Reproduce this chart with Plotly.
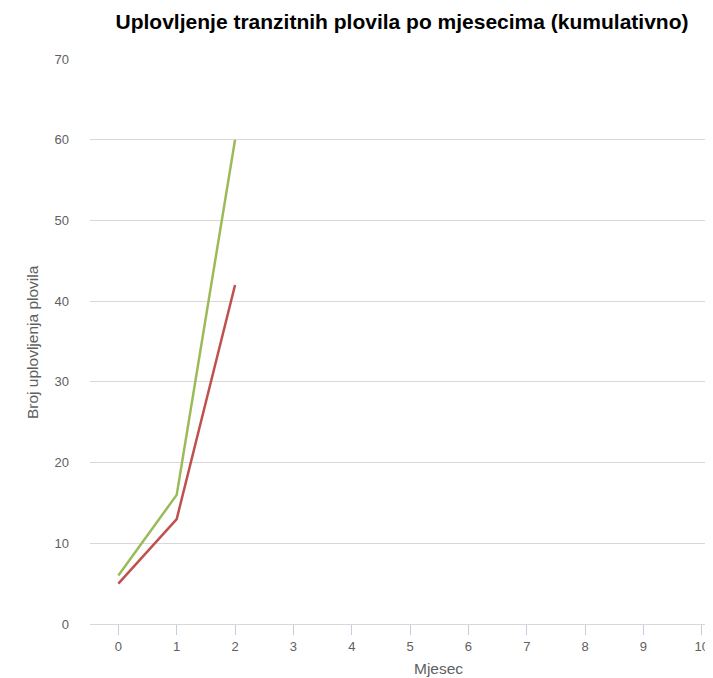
import plotly.graph_objects as go

months = [0, 1, 2]
series_green = [6, 16, 60]
series_red = [5, 13, 42]
x_ticks = list(range(0, 11))
y_ticks = list(range(0, 80, 10))

title_text = "Uplovljenje tranzitnih plovila po mjesecima (kumulativno)"
x_title = "Mjesec"
y_title = "Broj uplovljenja plovila"

# page body has an 8px margin, so the figure is offset by 8px
OFF = 8
W, H = 713 - OFF, 678 - OFF
L, R, T, B = 90 - OFF, 710 - OFF, 59 - OFF, 624 - OFF  # plot area in figure px
PW, PH = R - L, B - T

fig = go.Figure()
fig.add_trace(go.Scatter(x=months, y=series_green, mode="lines",
                         line=dict(color="#9BBB59", width=2.5), showlegend=False))
fig.add_trace(go.Scatter(x=months, y=series_red, mode="lines",
                         line=dict(color="#C0504D", width=2.5), showlegend=False))

font_family = "Liberation Sans, Arial, sans-serif"

fig.update_layout(
    width=W, height=H,
    margin=dict(l=L, r=W - R, t=T, b=H - B, pad=0),
    paper_bgcolor="white", plot_bgcolor="white",
    font=dict(family=font_family, color="#606060", size=13),
    title=dict(text="<b>" + title_text + "</b>", x=(402 - OFF) / W, xanchor="center",
               y=1 - (22 - OFF) / H, yanchor="middle", yref="container",
               font=dict(size=21, color="#000000", family=font_family)),
    xaxis=dict(range=[-0.486, 10.14], tickvals=x_ticks, ticktext=[str(v) for v in x_ticks],
               showgrid=False, zeroline=False, showline=True, linecolor="#D8D8D8", linewidth=1,
               ticks="outside", ticklen=10, tickcolor="#C0D0E0", tickwidth=1,
               tickfont=dict(size=13, color="#606060")),
    yaxis=dict(range=[0, 70], tickvals=y_ticks, showgrid=True, gridcolor="#D8D8D8", gridwidth=1,
               zeroline=False, showline=False, ticks="", ticklabelstandoff=20,
               tickfont=dict(size=13, color="#606060")),
    annotations=[
        dict(text=x_title, x=(438 - 90) / PW, xref="paper", y=-(668 - 624) / PH, yref="paper",
             showarrow=False, xanchor="center", yanchor="middle",
             font=dict(size=15.5, color="#606060")),
        dict(text=y_title, textangle=-90, x=(32 - 90) / PW, xref="paper",
             y=(624 - 342) / PH, yref="paper", showarrow=False, xanchor="center", yanchor="middle",
             font=dict(size=15.5, color="#606060")),
    ],
)

fig.write_html("out.html")
